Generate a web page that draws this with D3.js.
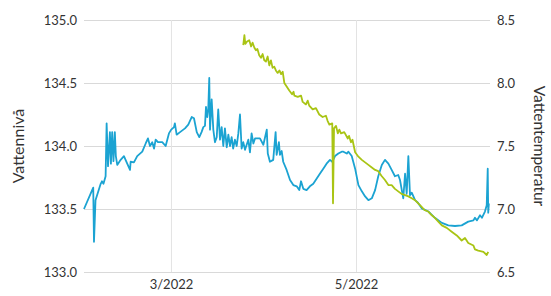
<!DOCTYPE html>
<html lang="sv">
  <head>
    <meta charset="UTF-8" />
    <title>Vattennivå och vattentemperatur</title>
    <style>
      body { margin: 0; background: #fff; }
      svg text { font-family: Lato, "Open Sans", sans-serif; fill: #333; }
    </style>
  </head>
  <body>
    <svg id="svg" width="551" height="296"></svg>

    <script src="https://cdn.jsdelivr.net/npm/d3@7"></script>
    <script>
      const MARGIN = { top: 20, right: 61, bottom: 24, left: 84 };
      const WIDTH = 551 - (MARGIN.left + MARGIN.right);
      const HEIGHT = 296 - (MARGIN.top + MARGIN.bottom);

      const xDomain = ["2022-01-31 08", "2022-06-14 04"];
      const levelTicks = [133.0, 133.5, 134.0, 134.5, 135.0];
      const tempTicks = [6.5, 7.0, 7.5, 8.0, 8.5];

      // vattennivå (left axis)
      const level = [
        ["2022-01-31 08", 133.5], ["2022-02-03 09", 133.67], ["2022-02-03 15", 133.24],
        ["2022-02-04 03", 133.57], ["2022-02-05 20", 133.7], ["2022-02-06 06", 133.72],
        ["2022-02-06 18", 133.7], ["2022-02-07 11", 133.76], ["2022-02-07 19", 134.18],
        ["2022-02-08 06", 133.84], ["2022-02-08 21", 134.11], ["2022-02-09 05", 133.86],
        ["2022-02-09 15", 134.11], ["2022-02-10 01", 133.88], ["2022-02-10 12", 134.11],
        ["2022-02-10 20", 133.92], ["2022-02-11 07", 133.85], ["2022-02-12 10", 133.89],
        ["2022-02-13 12", 133.92], ["2022-02-14 14", 133.86], ["2022-02-15 12", 133.81],
        ["2022-02-15 17", 133.875], ["2022-02-16 19", 133.87], ["2022-02-17 21", 133.92],
        ["2022-02-19 13", 133.955], ["2022-02-20 16", 134.02], ["2022-02-21 10", 134.06],
        ["2022-02-22 02", 134.0], ["2022-02-22 20", 134.03], ["2022-02-23 10", 133.98],
        ["2022-02-23 23", 134.05], ["2022-02-24 17", 134.03], ["2022-02-26 03", 134.03],
        ["2022-02-27 06", 134.0], ["2022-02-28 08", 134.1], ["2022-03-01 02", 134.13],
        ["2022-03-02 00", 134.15], ["2022-03-02 07", 134.18], ["2022-03-02 21", 134.09],
        ["2022-03-04 00", 134.11], ["2022-03-05 15", 134.14], ["2022-03-06 17", 134.17],
        ["2022-03-07 20", 134.23], ["2022-03-08 14", 134.22], ["2022-03-09 12", 134.11],
        ["2022-03-10 08", 134.07], ["2022-03-11 02", 134.11], ["2022-03-11 16", 134.15],
        ["2022-03-12 05", 134.16], ["2022-03-12 13", 134.31], ["2022-03-12 23", 134.23],
        ["2022-03-13 07", 134.29], ["2022-03-13 15", 134.54], ["2022-03-13 21", 134.13],
        ["2022-03-14 10", 134.37], ["2022-03-14 23", 134.13], ["2022-03-15 12", 134.03],
        ["2022-03-16 02", 134.07], ["2022-03-16 14", 134.29], ["2022-03-17 04", 134.05],
        ["2022-03-17 17", 134.15], ["2022-03-18 06", 134.0], ["2022-03-18 19", 134.14],
        ["2022-03-19 09", 133.99], ["2022-03-19 22", 134.09], ["2022-03-20 11", 134.0],
        ["2022-03-21 00", 134.07], ["2022-03-21 12", 133.98], ["2022-03-22 02", 134.05],
        ["2022-03-22 16", 134.0], ["2022-03-23 05", 134.1], ["2022-03-23 18", 134.25],
        ["2022-03-24 07", 133.98], ["2022-03-24 20", 134.03], ["2022-03-25 10", 133.97],
        ["2022-03-26 12", 134.05], ["2022-03-27 01", 133.95], ["2022-03-27 14", 134.1],
        ["2022-03-28 04", 134.02], ["2022-03-28 17", 134.06], ["2022-03-29 19", 134.06],
        ["2022-03-30 08", 134.06], ["2022-03-31 11", 134.01], ["2022-04-01 14", 134.13],
        ["2022-04-01 22", 133.94], ["2022-04-02 15", 133.875], ["2022-04-03 17", 133.89],
        ["2022-04-04 12", 134.11], ["2022-04-04 20", 133.93], ["2022-04-05 14", 134.03],
        ["2022-04-05 22", 133.93], ["2022-04-06 12", 133.96], ["2022-04-07 00", 133.875],
        ["2022-04-08 03", 133.81], ["2022-04-09 06", 133.73], ["2022-04-10 08", 133.69],
        ["2022-04-11 11", 133.68], ["2022-04-12 07", 133.65], ["2022-04-12 21", 133.72],
        ["2022-04-13 15", 133.66], ["2022-04-14 17", 133.65], ["2022-04-15 19", 133.68],
        ["2022-04-16 22", 133.7], ["2022-04-18 00", 133.74], ["2022-04-19 02", 133.78],
        ["2022-04-20 05", 133.82], ["2022-04-21 07", 133.86], ["2022-04-22 10", 133.89],
        ["2022-04-23 04", 133.875], ["2022-04-24 02", 133.92], ["2022-04-25 04", 133.94],
        ["2022-04-26 07", 133.955], ["2022-04-26 20", 133.955], ["2022-04-27 23", 133.94],
        ["2022-04-28 12", 133.955], ["2022-04-29 14", 133.92], ["2022-04-30 17", 133.82],
        ["2022-05-01 19", 133.69], ["2022-05-02 22", 133.64], ["2022-05-04 00", 133.6],
        ["2022-05-05 02", 133.57], ["2022-05-06 05", 133.585], ["2022-05-07 07", 133.65],
        ["2022-05-08 08", 133.76], ["2022-05-09 12", 133.85], ["2022-05-10 13", 133.89],
        ["2022-05-11 16", 133.86], ["2022-05-12 18", 133.81], ["2022-05-13 20", 133.76],
        ["2022-05-14 22", 133.77], ["2022-05-15 12", 133.73], ["2022-05-16 14", 133.585],
        ["2022-05-17 04", 133.78], ["2022-05-17 17", 133.62], ["2022-05-18 06", 133.92],
        ["2022-05-18 19", 133.61], ["2022-05-19 09", 133.63], ["2022-05-20 11", 133.57],
        ["2022-05-21 10", 133.55], ["2022-05-22 16", 133.505], ["2022-05-24 20", 133.48],
        ["2022-05-27 00", 133.43], ["2022-05-29 07", 133.39], ["2022-05-31 10", 133.37],
        ["2022-06-02 15", 133.365], ["2022-06-04 20", 133.37], ["2022-06-07 00", 133.4],
        ["2022-06-08 17", 133.41], ["2022-06-09 05", 133.43], ["2022-06-09 21", 133.41],
        ["2022-06-10 21", 133.45], ["2022-06-11 12", 133.43], ["2022-06-12 12", 133.48],
        ["2022-06-13 02", 133.53], ["2022-06-13 10", 133.82], ["2022-06-13 14", 133.47],
        ["2022-06-13 19", 133.545]
      ];

      // vattentemperatur (right axis)
      const temp = [
        ["2022-03-24 20", 8.3], ["2022-03-25 05", 8.38], ["2022-03-25 12", 8.31],
        ["2022-03-26 02", 8.33], ["2022-03-26 19", 8.34], ["2022-03-27 10", 8.29],
        ["2022-03-27 22", 8.32], ["2022-03-28 12", 8.28], ["2022-03-29 00", 8.26],
        ["2022-03-29 12", 8.27], ["2022-03-30 02", 8.22], ["2022-03-30 16", 8.2],
        ["2022-03-31 05", 8.23], ["2022-03-31 18", 8.18], ["2022-04-01 07", 8.17],
        ["2022-04-01 21", 8.21], ["2022-04-02 10", 8.14], ["2022-04-02 23", 8.18],
        ["2022-04-03 12", 8.12], ["2022-04-04 01", 8.13], ["2022-04-04 14", 8.1],
        ["2022-04-05 04", 8.08], ["2022-04-05 18", 8.1], ["2022-04-06 07", 8.07],
        ["2022-04-06 20", 8.09], ["2022-04-07 09", 8.0], ["2022-04-09 00", 7.94],
        ["2022-04-09 22", 7.91], ["2022-04-10 10", 7.93], ["2022-04-10 16", 7.9],
        ["2022-04-11 19", 7.89], ["2022-04-12 21", 7.9], ["2022-04-13 10", 7.85],
        ["2022-04-14 12", 7.83], ["2022-04-15 02", 7.86], ["2022-04-15 14", 7.82],
        ["2022-04-16 17", 7.79], ["2022-04-17 19", 7.8], ["2022-04-18 21", 7.75],
        ["2022-04-20 00", 7.73], ["2022-04-21 02", 7.74], ["2022-04-21 15", 7.7],
        ["2022-04-22 05", 7.67], ["2022-04-23 04", 7.68], ["2022-04-23 10", 7.045],
        ["2022-04-23 18", 7.64], ["2022-04-24 10", 7.66], ["2022-04-25 00", 7.6],
        ["2022-04-25 12", 7.63], ["2022-04-26 01", 7.6], ["2022-04-27 03", 7.61],
        ["2022-04-28 07", 7.56], ["2022-04-28 17", 7.58], ["2022-04-29 08", 7.53],
        ["2022-04-29 20", 7.55], ["2022-04-30 17", 7.45], ["2022-05-01 19", 7.415],
        ["2022-05-02 22", 7.39], ["2022-05-04 00", 7.37], ["2022-05-05 02", 7.35],
        ["2022-05-06 05", 7.33], ["2022-05-07 07", 7.31], ["2022-05-08 08", 7.3],
        ["2022-05-09 12", 7.26], ["2022-05-10 13", 7.23], ["2022-05-11 16", 7.19],
        ["2022-05-12 18", 7.19], ["2022-05-13 20", 7.16], ["2022-05-14 22", 7.14],
        ["2022-05-16 00", 7.12], ["2022-05-17 04", 7.11], ["2022-05-18 06", 7.1],
        ["2022-05-19 09", 7.085], ["2022-05-20 11", 7.07], ["2022-05-21 12", 7.045],
        ["2022-05-22 02", 7.03], ["2022-05-23 17", 6.99], ["2022-05-24 20", 6.98],
        ["2022-05-26 00", 6.95], ["2022-05-27 00", 6.93], ["2022-05-28 03", 6.9],
        ["2022-05-29 07", 6.87], ["2022-05-30 22", 6.85], ["2022-06-01 13", 6.82],
        ["2022-06-03 05", 6.79], ["2022-06-04 20", 6.75], ["2022-06-05 22", 6.77],
        ["2022-06-07 00", 6.73], ["2022-06-08 17", 6.71], ["2022-06-09 05", 6.68],
        ["2022-06-10 07", 6.67], ["2022-06-12 00", 6.66], ["2022-06-13 02", 6.635],
        ["2022-06-13 14", 6.66]
      ];

      const parse = d3.timeParse("%Y-%m-%d %H");

      const xScale = d3
        .scaleTime()
        .domain(xDomain.map(parse))
        .range([MARGIN.left, MARGIN.left + WIDTH]);
      const yLevel = d3
        .scaleLinear()
        .domain([133, 135])
        .range([MARGIN.top + HEIGHT, MARGIN.top]);
      const yTemp = d3
        .scaleLinear()
        .domain([6.5, 8.5])
        .range([MARGIN.top + HEIGHT, MARGIN.top]);

      const svg = d3.select("#svg");

      // horizontal grid + left labels
      const leftAxis = d3
        .axisLeft(yLevel)
        .tickValues(levelTicks)
        .tickFormat(d3.format(".1f"))
        .tickSize(-WIDTH)
        .tickPadding(7);
      const gl = svg
        .append("g")
        .attr("transform", `translate(${MARGIN.left}, 0)`)
        .call(leftAxis);
      gl.select(".domain").remove();
      gl.selectAll("line").attr("stroke", "#d9d9d9");
      gl.selectAll("text").attr("font-size", 13);

      const rightAxis = d3
        .axisRight(yTemp)
        .tickValues(tempTicks)
        .tickFormat(d3.format(".1f"))
        .tickSize(0)
        .tickPadding(7);
      const gr = svg
        .append("g")
        .attr("transform", `translate(${MARGIN.left + WIDTH}, 0)`)
        .call(rightAxis);
      gr.select(".domain").remove();
      gr.selectAll("text").attr("font-size", 13);

      // vertical grid + month labels
      const bottomAxis = d3
        .axisBottom(xScale)
        .ticks(d3.timeMonth.every(2))
        .tickFormat(d3.timeFormat("%-m/%Y"))
        .tickSize(-HEIGHT)
        .tickPadding(8);
      const gb = svg
        .append("g")
        .attr("transform", `translate(0, ${MARGIN.top + HEIGHT})`)
        .call(bottomAxis);
      gb.select(".domain").remove();
      gb.selectAll("line").attr("stroke", "#e3e3e3");
      gb.selectAll("text").attr("font-size", 13);

      const levelLine = d3
        .line()
        .x((d) => xScale(parse(d[0])))
        .y((d) => yLevel(d[1]));
      const tempLine = d3
        .line()
        .x((d) => xScale(parse(d[0])))
        .y((d) => yTemp(d[1]));

      svg
        .append("path")
        .datum(level)
        .attr("fill", "none")
        .attr("stroke", "#1ba3d2")
        .attr("stroke-width", 1.8)
        .attr("stroke-linejoin", "round")
        .attr("d", levelLine);

      svg
        .append("path")
        .datum(temp)
        .attr("fill", "none")
        .attr("stroke", "#a9c414")
        .attr("stroke-width", 1.8)
        .attr("stroke-linejoin", "round")
        .attr("d", tempLine);

      const midY = MARGIN.top + HEIGHT / 2;
      svg
        .append("text")
        .attr("transform", `translate(24, ${midY}) rotate(-90)`)
        .attr("text-anchor", "middle")
        .attr("font-size", 16)
        .text("Vattennivå");
      svg
        .append("text")
        .attr("transform", `translate(534, ${midY}) rotate(90)`)
        .attr("text-anchor", "middle")
        .attr("font-size", 15.5)
        .text("Vattentemperatur");
    </script>
  </body>
</html>
